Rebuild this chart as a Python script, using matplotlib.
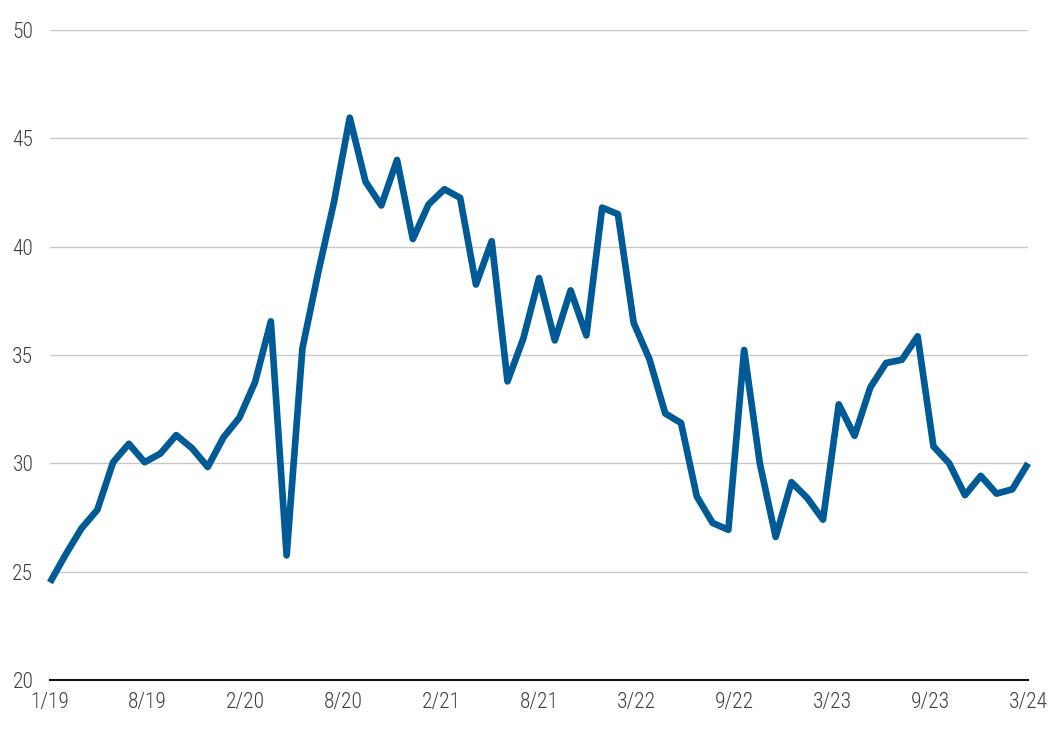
import numpy as np
import matplotlib.pyplot as plt
from matplotlib import font_manager

# monthly values, 1/19 through 3/24
values = [24.5, 25.8, 27.0, 27.85, 30.05, 30.9, 30.05, 30.45, 31.3, 30.7,
          29.83, 31.2, 32.1, 33.75, 36.55, 25.75, 35.3, 38.8, 42.05, 45.95,
          43.0, 41.9, 44.0, 40.35, 41.95, 42.65, 42.25, 38.25, 40.25, 33.78,
          35.75, 38.55, 35.67, 37.98, 35.9, 41.8, 41.5, 36.48, 34.8, 32.3,
          31.86, 28.47, 27.25, 26.93, 35.23, 29.98, 26.6, 29.13, 28.4, 27.4,
          32.72, 31.27, 33.5, 34.63, 34.78, 35.86, 30.78, 30.0, 28.53, 29.42,
          28.6, 28.8, 30.0]
tick_labels = ['1/19', '8/19', '2/20', '8/20', '2/21', '8/21',
               '3/22', '9/22', '3/23', '9/23', '3/24']
y_ticks = [20, 25, 30, 35, 40, 45, 50]

# pick a narrow face if one is around, else Roboto light
names = {f.name for f in font_manager.fontManager.ttflist}
family = 'Roboto'
for cand in ['Liberation Sans Narrow', 'Roboto Condensed', 'Open Sans Condensed']:
    if cand in names:
        family = cand
        break
plt.rcParams['font.family'] = [family, 'DejaVu Sans']
plt.rcParams['font.weight'] = 'light'

fig = plt.figure(figsize=(10.48, 7.34), dpi=100)
ax = fig.add_axes([0.0477, 0.0736, 0.9333, 0.8856])

x = np.arange(len(values))
ax.plot(x, values, color='#005a96', linewidth=4.8, solid_joinstyle='round',
        solid_capstyle='butt', clip_on=False, zorder=3)

ax.set_xlim(0, len(values) - 1)
ax.set_ylim(20, 50)
ax.set_yticks(y_ticks)
ax.set_xticks(np.linspace(0, len(values) - 1, len(tick_labels)))
ax.set_xticklabels(tick_labels)

ax.grid(axis='y', color='#c8c8c8', linewidth=1.0)
ax.set_axisbelow(True)
for side in ['top', 'right', 'left']:
    ax.spines[side].set_visible(False)
ax.spines['bottom'].set_color('#111111')
ax.spines['bottom'].set_linewidth(1.5)
ax.spines['bottom'].set_zorder(4)

ax.tick_params(axis='both', length=0, labelsize=15.5, labelcolor='#404040')
ax.tick_params(axis='y', pad=12)
ax.tick_params(axis='x', pad=9)

plt.savefig('out.png', dpi=100)
